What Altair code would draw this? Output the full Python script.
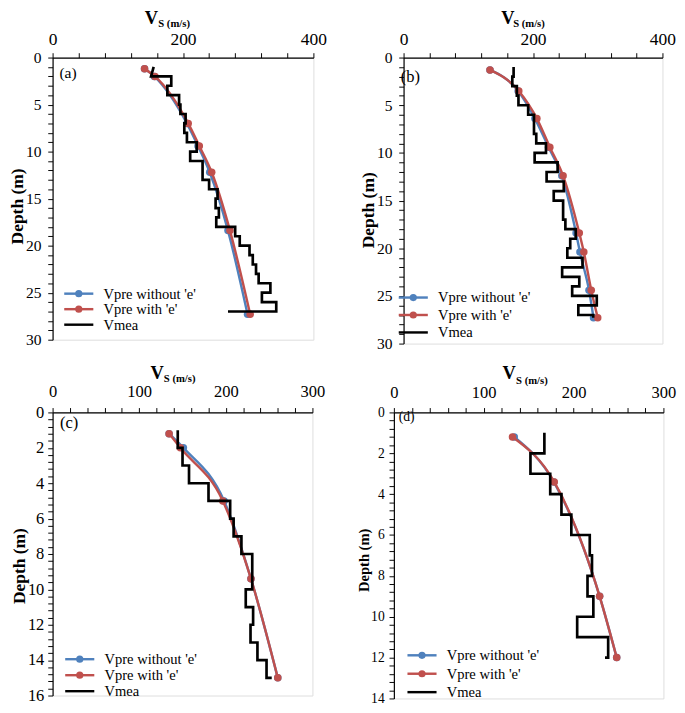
import altair as alt
import pandas as pd

FONT = "Liberation Serif"
SERIES = ["Vpre without 'e'", "Vpre with 'e'", "Vmea"]
COLORS = ["#4F81BD", "#C0504D", "#000000"]

# ---------------- Panel (a) ----------------
a_pred_depth = [1.2, 2.0, 7.0, 9.4, 12.2, 18.4, 27.3]
a_pred_without = [141, 156, 206, 223, 241, 269, 299]
a_pred_with = [141, 157, 208, 225, 244, 272, 303]
a_mea_top = [1, 2, 2, 3, 4, 5, 6, 7, 8, 9, 10, 11, 13, 14, 15, 16, 17, 18, 19, 20, 21, 22, 23, 24, 25, 26, 27]
a_mea_bottom = [1, 2, 3, 4, 5, 6, 7, 8, 9, 10, 11, 13, 14, 15, 16, 17, 18, 19, 20, 21, 22, 23, 24, 25, 26, 27, 27]
a_mea_v = [155, 151, 182, 176, 194, 196, 204, 202, 206, 221, 211, 230, 240, 253, 250, 255, 251, 280, 287, 302, 307, 312, 316, 334, 321, 343, 269]

# ---------------- Panel (b) ----------------
b_pred_depth = [1.3, 3.5, 6.4, 9.4, 12.4, 18.4, 20.4, 24.4, 27.3]
b_pred_without = [133.5, 177, 203, 224, 244.5, 266.5, 272.5, 286.5, 293.5]
b_pred_with = [133.5, 178, 206, 226, 246.5, 271.5, 278.5, 290, 300]
b_mea_top = [1, 2, 3, 4, 5, 6, 8, 9, 10, 11, 12, 13, 14, 15, 17, 18, 19, 20, 21, 22, 23, 24, 25, 26, 27]
b_mea_bottom = [2, 3, 4, 5, 6, 8, 9, 10, 11, 12, 13, 14, 15, 17, 18, 19, 20, 21, 22, 23, 24, 25, 26, 27, 27.3]
b_mea_v = [170, 168, 175, 177.5, 192.5, 201.5, 205, 220, 202.5, 238, 221, 247.5, 232, 246.5, 250, 266, 257.5, 253, 276.5, 245, 271.5, 260.5, 298.5, 270, 293]

# ---------------- Panel (c) ----------------
c_pred_depth = [1.2, 2.0, 5.0, 9.4, 15.0]
c_pred_without = [134.5, 151, 198, 229, 260]
c_pred_with = [134.5, 147.5, 196.5, 229, 260]
c_mea_top = [1, 2, 3, 4, 5, 6, 7, 8, 10, 11, 12, 13, 14, 15]
c_mea_bottom = [2, 3, 4, 5, 6, 7, 8, 10, 11, 12, 13, 14, 15, 15]
c_mea_v = [144.5, 150, 157.5, 180, 205, 209, 218, 230.5, 223, 231.5, 228.5, 236.5, 247, 253]

# ---------------- Panel (d) ----------------
d_pred_depth = [1.2, 3.4, 9.0, 12.0]
d_pred_without = [134, 178, 229, 248]
d_pred_with = [132, 178.5, 229, 248]
d_mea_top = [1, 2, 3, 4, 5, 6, 7, 8, 9, 10, 11, 12]
d_mea_bottom = [2, 3, 4, 5, 6, 7, 8, 9, 10, 11, 12, 12]
d_mea_v = [167.5, 152, 174, 186.5, 197.5, 218, 220.5, 215.5, 222, 204, 238.5, 235]

LINE_ONLY = "M-3,0H3"


def ticks(maxv, step):
    n = int(round(maxv / step))
    return [round(i * step, 2) for i in range(n + 1)]


def build_df(pred_depth, pred_without, pred_with, mea_top, mea_bottom, mea_v):
    rows = []
    for i, (d, v) in enumerate(zip(pred_depth, pred_without)):
        rows.append({"series": SERIES[0], "depth": d, "V": v, "idx": i})
    for i, (d, v) in enumerate(zip(pred_depth, pred_with)):
        rows.append({"series": SERIES[1], "depth": d, "V": v, "idx": i})
    k = 0
    for t, b, v in zip(mea_top, mea_bottom, mea_v):
        rows.append({"series": SERIES[2], "depth": t, "V": v, "idx": k})
        k += 1
        rows.append({"series": SERIES[2], "depth": b, "V": v, "idx": k})
        k += 1
    return pd.DataFrame(rows)


def panel(df, c):
    xvals = ticks(c["xmax"], c["xstep"])
    yvals = ticks(c["ymax"], c["ystep"])
    x = alt.X(
        "V:Q",
        scale=alt.Scale(domain=[0, c["xmax"]], nice=False, zero=False),
        axis=alt.Axis(
            orient="top", values=xvals, title=None,
            labelExpr=f"datum.value % {c['xlab']} == 0 ? '' + datum.value : ''",
            labelFont=FONT, labelFontSize=c["xfs"], labelColor="black",
            labelPadding=c["xpad"], labelFlush=False, labelOverlap=False,
            tickSize=5, tickColor="black", tickWidth=1,
            domainColor="black", domainWidth=1.2, grid=False,
        ),
    )
    y = alt.Y(
        "depth:Q",
        scale=alt.Scale(domain=[0, c["ymax"]], reverse=True, nice=False, zero=False),
        axis=alt.Axis(
            values=yvals, title="Depth (m)",
            labelExpr=f"datum.value % {c['ylab']} == 0 ? '' + datum.value : ''",
            labelFont=FONT, labelFontSize=c["yfs"], labelColor="black",
            labelPadding=c["ypad"], labelOverlap=False,
            tickSize=5, tickColor="black", tickWidth=1,
            domainColor="black", domainWidth=1.2, grid=False,
            titleFont=FONT, titleFontSize=c["tfs"], titleFontWeight="bold",
            titleColor="black", titlePadding=c["tpad"], titleY=c["titleY"],
        ),
    )
    common_leg = dict(
        title=None, orient="none", legendX=c["legx"], legendY=c["legy"],
        direction="vertical", labelFont=FONT, labelFontSize=15,
        labelLimit=400, symbolOffset=7.5, labelOffset=18,
        rowPadding=c["legrp"], padding=0, offset=0,
    )
    line_legend = alt.Legend(symbolType=LINE_ONLY, symbolSize=100, symbolStrokeWidth=2.5,
                             labelColor="black", **common_leg)
    dot_legend = alt.Legend(symbolType="circle", symbolSize=55, symbolStrokeWidth=0,
                            labelColor="black", labelOpacity=0, **common_leg)
    color = alt.Color("series:N", scale=alt.Scale(domain=SERIES, range=COLORS), legend=line_legend)
    fill = alt.Fill("series:N", scale=alt.Scale(domain=SERIES[:2], range=COLORS[:2]), legend=dot_legend)

    base = alt.Chart(df).encode(x=x, y=y, order=alt.Order("idx:Q"))

    def sel(s):
        return base.transform_filter(alt.FieldEqualPredicate(field="series", equal=s))

    layers = [
        sel(SERIES[0]).mark_line(interpolate="monotone", strokeWidth=2.5).encode(color=color),
        sel(SERIES[0]).mark_circle(size=60, opacity=1).encode(fill=fill),
        sel(SERIES[1]).mark_line(interpolate="monotone", strokeWidth=2.5).encode(color=color),
        sel(SERIES[1]).mark_circle(size=60, opacity=1).encode(fill=fill),
        sel(SERIES[2]).mark_line(strokeWidth=2.75).encode(color=color),
    ]
    one = alt.Data(values=[{}])
    layers += [
        alt.Chart(one).mark_text(text="V", font=FONT, fontSize=19, fontWeight="bold",
                                 align="center", baseline="alphabetic", color="black")
        .encode(x=alt.value(c["vx"]), y=alt.value(c["vy"])),
        alt.Chart(one).mark_text(text="S (m/s)", font=FONT, fontSize=11, fontWeight="bold",
                                 align="left", baseline="alphabetic", color="black")
        .encode(x=alt.value(c["sx"]), y=alt.value(c["sy"])),
        alt.Chart(one).mark_text(text=c["letter"], font=FONT, fontSize=c["lfs"],
                                 align="left", baseline="middle", color="black")
        .encode(x=alt.value(c["lx"]), y=alt.value(c["ly"])),
    ]
    return alt.layer(*layers).properties(width=c["w"], height=c["h"])


cfg_a = dict(w=269, h=291, xmax=400, xstep=40, xlab=200, ymax=30, ystep=1, ylab=5,
             xfs=18, yfs=16, tfs=18, xpad=4.5, ypad=7, tpad=-1, titleY=153,
             vx=102, vy=-35, sx=109, sy=-32, letter="(a)", lfs=16, lx=7, ly=16.5,
             legx=12, legy=236, legrp=-1.5)
cfg_b = dict(w=267, h=295, xmax=400, xstep=40, xlab=200, ymax=30, ystep=1, ylab=5,
             xfs=18, yfs=16, tfs=18, xpad=4.5, ypad=7, tpad=-1, titleY=157,
             vx=107.5, vy=-35, sx=113, sy=-32, letter="(b)", lfs=17, lx=-3, ly=20,
             legx=-5, legy=240, legrp=2)
cfg_c = dict(w=268, h=292, xmax=300, xstep=20, xlab=100, ymax=16, ystep=0.4, ylab=2,
             xfs=17, yfs=17, tfs=18, xpad=7, ypad=4, tpad=-1, titleY=158,
             vx=107.7, vy=-34, sx=114.7, sy=-31, letter="(c)", lfs=17, lx=7.7, ly=11,
             legx=13, legy=247, legrp=0.5)
cfg_d = dict(w=278, h=295, xmax=300, xstep=20, xlab=100, ymax=14, ystep=0.4, ylab=2,
             xfs=17, yfs=14, tfs=15, xpad=6.6, ypad=5, tpad=-1, titleY=152,
             vx=119, vy=-34, sx=126, sy=-29, letter="(d)", lfs=14, lx=5, ly=4.4,
             legx=14, legy=243, legrp=3)

pa = panel(build_df(a_pred_depth, a_pred_without, a_pred_with, a_mea_top, a_mea_bottom, a_mea_v), cfg_a)
pb = panel(build_df(b_pred_depth, b_pred_without, b_pred_with, b_mea_top, b_mea_bottom, b_mea_v), cfg_b)
pc = panel(build_df(c_pred_depth, c_pred_without, c_pred_with, c_mea_top, c_mea_bottom, c_mea_v), cfg_c)
pd_ = panel(build_df(d_pred_depth, d_pred_without, d_pred_with, d_mea_top, d_mea_bottom, d_mea_v), cfg_d)


def indep(ch):
    return (ch.resolve_scale(x="independent", y="independent", color="independent", fill="independent")
              .resolve_legend(color="independent", fill="independent"))


top = indep(alt.hconcat(pa, pb, spacing=33))
bottom = indep(alt.hconcat(pc, pd_, spacing=31))
chart = indep(alt.vconcat(top, bottom, spacing=12)).properties(
    padding={"top": -11, "left": 0, "right": 0, "bottom": 0})
chart = chart.configure_view(stroke="black", strokeWidth=1).configure(background="white")

chart.save("out.html", embed_options={"renderer": "svg", "actions": False})
